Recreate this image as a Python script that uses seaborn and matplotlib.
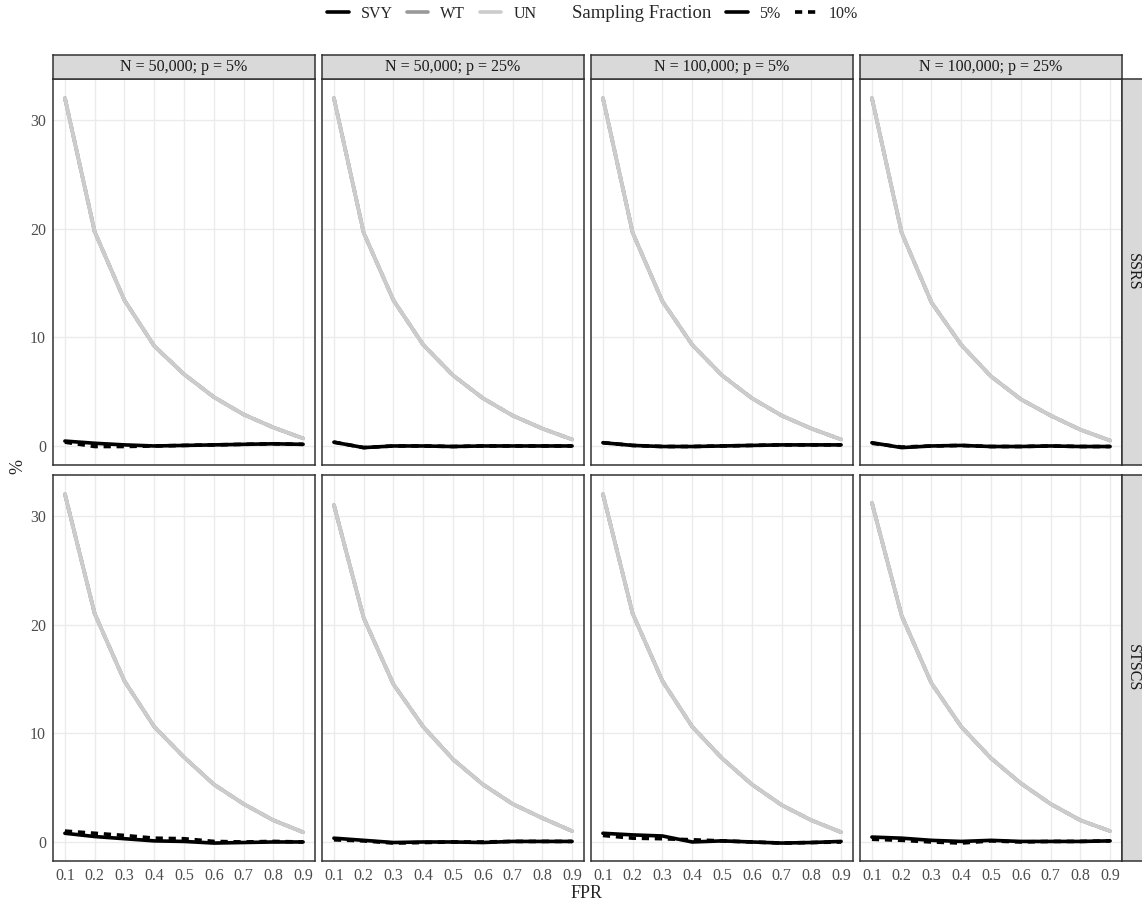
import numpy as np
import pandas as pd
import matplotlib
matplotlib.use("Agg")
import matplotlib.pyplot as plt
from matplotlib.lines import Line2D
import seaborn as sns

# ---------------- data ----------------
fpr = [0.1, 0.2, 0.3, 0.4, 0.5, 0.6, 0.7, 0.8, 0.9]
col_labels = ["N = 50,000; p = 5%", "N = 50,000; p = 25%",
              "N = 100,000; p = 5%", "N = 100,000; p = 25%"]
row_labels = ["SSRS", "STSCS"]
methods = ["SVY", "WT", "UN"]
fractions = ["5%", "10%"]

# UN (unweighted) curves, per panel
un_ssrs_1 = [32.0, 19.7, 13.4, 9.2, 6.6, 4.5, 2.9, 1.7, 0.7]
un_ssrs_2 = [32.0, 19.6, 13.4, 9.3, 6.5, 4.4, 2.8, 1.6, 0.6]
un_ssrs_3 = [32.0, 19.6, 13.3, 9.3, 6.5, 4.4, 2.8, 1.6, 0.6]
un_ssrs_4 = [32.0, 19.6, 13.2, 9.3, 6.4, 4.3, 2.8, 1.5, 0.5]
un_stscs_1 = [32.0, 21.0, 14.8, 10.6, 7.8, 5.3, 3.5, 2.0, 0.9]
un_stscs_2 = [31.0, 20.6, 14.5, 10.6, 7.6, 5.3, 3.5, 2.2, 1.0]
un_stscs_3 = [32.0, 21.0, 14.8, 10.6, 7.7, 5.3, 3.4, 2.0, 0.9]
un_stscs_4 = [31.2, 20.8, 14.6, 10.6, 7.7, 5.4, 3.5, 2.0, 1.0]

# SVY curves, 5% and 10% sampling fractions
svy5_ssrs_1 = [0.45, 0.25, 0.10, 0.00, 0.05, 0.10, 0.15, 0.20, 0.15]
svy10_ssrs_1 = [0.35, -0.05, -0.05, 0.00, 0.05, 0.10, 0.15, 0.20, 0.15]
svy5_ssrs_2 = [0.35, -0.15, 0.00, 0.00, -0.05, 0.00, 0.00, 0.00, 0.00]
svy10_ssrs_2 = [0.35, -0.15, 0.00, 0.00, -0.05, 0.00, 0.00, 0.00, 0.00]
svy5_ssrs_3 = [0.30, 0.05, -0.05, -0.05, 0.00, 0.05, 0.10, 0.10, 0.10]
svy10_ssrs_3 = [0.30, 0.05, -0.05, -0.05, 0.00, 0.05, 0.10, 0.10, 0.10]
svy5_ssrs_4 = [0.30, -0.15, 0.00, 0.05, -0.05, -0.05, 0.00, -0.05, -0.05]
svy10_ssrs_4 = [0.25, -0.10, 0.00, 0.05, -0.05, -0.05, 0.00, -0.05, -0.05]
svy5_stscs_1 = [0.80, 0.50, 0.30, 0.10, 0.05, -0.10, -0.05, 0.00, 0.00]
svy10_stscs_1 = [1.00, 0.80, 0.60, 0.35, 0.30, 0.05, 0.00, 0.05, 0.00]
svy5_stscs_2 = [0.35, 0.15, -0.05, 0.00, 0.00, -0.05, 0.05, 0.05, 0.05]
svy10_stscs_2 = [0.20, 0.10, -0.10, -0.05, 0.00, 0.00, 0.05, 0.05, 0.05]
svy5_stscs_3 = [0.80, 0.65, 0.55, 0.00, 0.10, 0.00, -0.10, -0.05, 0.05]
svy10_stscs_3 = [0.60, 0.35, 0.30, 0.20, 0.10, 0.00, -0.10, -0.05, 0.00]
svy5_stscs_4 = [0.45, 0.35, 0.15, 0.05, 0.15, 0.05, 0.05, 0.05, 0.10]
svy10_stscs_4 = [0.25, 0.15, 0.00, -0.10, 0.10, 0.00, 0.05, 0.05, 0.10]

un_sets = [[un_ssrs_1, un_ssrs_2, un_ssrs_3, un_ssrs_4],
           [un_stscs_1, un_stscs_2, un_stscs_3, un_stscs_4]]
svy5_sets = [[svy5_ssrs_1, svy5_ssrs_2, svy5_ssrs_3, svy5_ssrs_4],
             [svy5_stscs_1, svy5_stscs_2, svy5_stscs_3, svy5_stscs_4]]
svy10_sets = [[svy10_ssrs_1, svy10_ssrs_2, svy10_ssrs_3, svy10_ssrs_4],
              [svy10_stscs_1, svy10_stscs_2, svy10_stscs_3, svy10_stscs_4]]

rows = []
for r, rl in enumerate(row_labels):
    for c, cl in enumerate(col_labels):
        un = un_sets[r][c]
        for fr in fractions:
            svy = svy5_sets[r][c] if fr == "5%" else svy10_sets[r][c]
            for m in methods:
                vals = svy if m == "SVY" else un  # WT lies under UN
                for x, y in zip(fpr, vals):
                    rows.append(dict(design=rl, setting=cl, method=m,
                                     fraction=fr, FPR=x, pct=y))
df = pd.DataFrame(rows)

# ---------------- style ----------------
sns.set_style("white")
plt.rcParams["font.family"] = ["Liberation Serif", "DejaVu Serif"]

W, H = 1142, 901
fig = plt.figure(figsize=(W / 100, H / 100), dpi=100)

palette = {"SVY": "#000000", "WT": "#999999", "UN": "#CCCCCC"}
dashes = {"5%": "", "10%": (2, 1.6)}

col_left = [53, 322, 591, 860]
pw = 262
row_top = [79, 475]
ph = 386
gray20 = "#333333"

def frac(x, y, w, h):
    return [x / W, 1 - (y + h) / H, w / W, h / H]

for r in range(2):
    for c in range(4):
        ax = fig.add_axes(frac(col_left[c], row_top[r], pw, ph))
        sub = df[(df.design == row_labels[r]) & (df.setting == col_labels[c])]
        sns.lineplot(data=sub, x="FPR", y="pct", hue="method", style="fraction",
                     hue_order=methods, style_order=fractions, palette=palette,
                     dashes=dashes, linewidth=2.6, legend=False, ax=ax,
                     estimator=None, sort=True)
        ax.set_xlim(0.06, 0.94)
        ax.set_ylim(-1.75, 33.75)
        ax.set_xticks(fpr)
        ax.set_yticks([0, 10, 20, 30])
        ax.grid(True, color="#EBEBEB", linewidth=1.0)
        ax.set_axisbelow(True)
        for s in ax.spines.values():
            s.set_color(gray20)
            s.set_linewidth(1.1)
        ax.set_xlabel("")
        ax.set_ylabel("")
        ax.tick_params(axis="both", colors=gray20, labelcolor="#4D4D4D",
                       labelsize=11.5, length=3, width=0.8, pad=2)
        if r == 0:
            ax.tick_params(axis="x", bottom=False, labelbottom=False)
        else:
            ax.set_xticklabels([f"{v:.1f}" for v in fpr])
        if c != 0:
            ax.tick_params(axis="y", left=False, labelleft=False)
        else:
            ax.set_yticklabels(["0", "10", "20", "30"])

        # top strip
        if r == 0:
            sax = fig.add_axes(frac(col_left[c], 55, pw, 24))
            sax.set_facecolor("#D9D9D9")
            sax.set_xticks([]); sax.set_yticks([])
            for s in sax.spines.values():
                s.set_color(gray20); s.set_linewidth(1.1)
            sax.text(0.5, 0.5, col_labels[c], ha="center", va="center",
                     fontsize=11.5, color="#1A1A1A", transform=sax.transAxes)
        # right strip
        if c == 3:
            sax = fig.add_axes(frac(1122, row_top[r], 21, ph))
            sax.set_facecolor("#D9D9D9")
            sax.set_xticks([]); sax.set_yticks([])
            for s in sax.spines.values():
                s.set_color(gray20); s.set_linewidth(1.1)
            sax.text(0.5, 0.5, row_labels[r], ha="center", va="center",
                     rotation=-90, fontsize=11.5, color="#1A1A1A",
                     transform=sax.transAxes)

fig.text(587 / W, 1 - 893 / H, "FPR", ha="center", va="center", fontsize=13)
fig.text(18 / W, 1 - 466 / H, "%", ha="center", va="center", rotation=90,
         fontsize=13)

# legends
h1 = [Line2D([], [], color=palette[m], linewidth=2.6) for m in methods]
leg1 = fig.legend(h1, methods, loc="center left",
                  bbox_to_anchor=(327 / W, 1 - 14 / H),
                  ncol=3, frameon=False, fontsize=11.5, handlelength=1.35,
                  handletextpad=0.75, columnspacing=0.9, borderpad=0,
                  borderaxespad=0)
h2 = [Line2D([], [], color="black", linewidth=2.6),
      Line2D([], [], color="black", linewidth=2.6, dashes=(2, 1.6))]
fig.text(572 / W, 1 - 14 / H, "Sampling Fraction", ha="left", va="center",
         fontsize=13.5)
leg2 = fig.legend(h2, fractions, loc="center left",
                  bbox_to_anchor=(726 / W, 1 - 14 / H),
                  ncol=2, frameon=False, fontsize=11.5, handlelength=1.35,
                  handletextpad=0.75, columnspacing=0.9, borderpad=0,
                  borderaxespad=0)

fig.savefig("out.png", dpi=100)
